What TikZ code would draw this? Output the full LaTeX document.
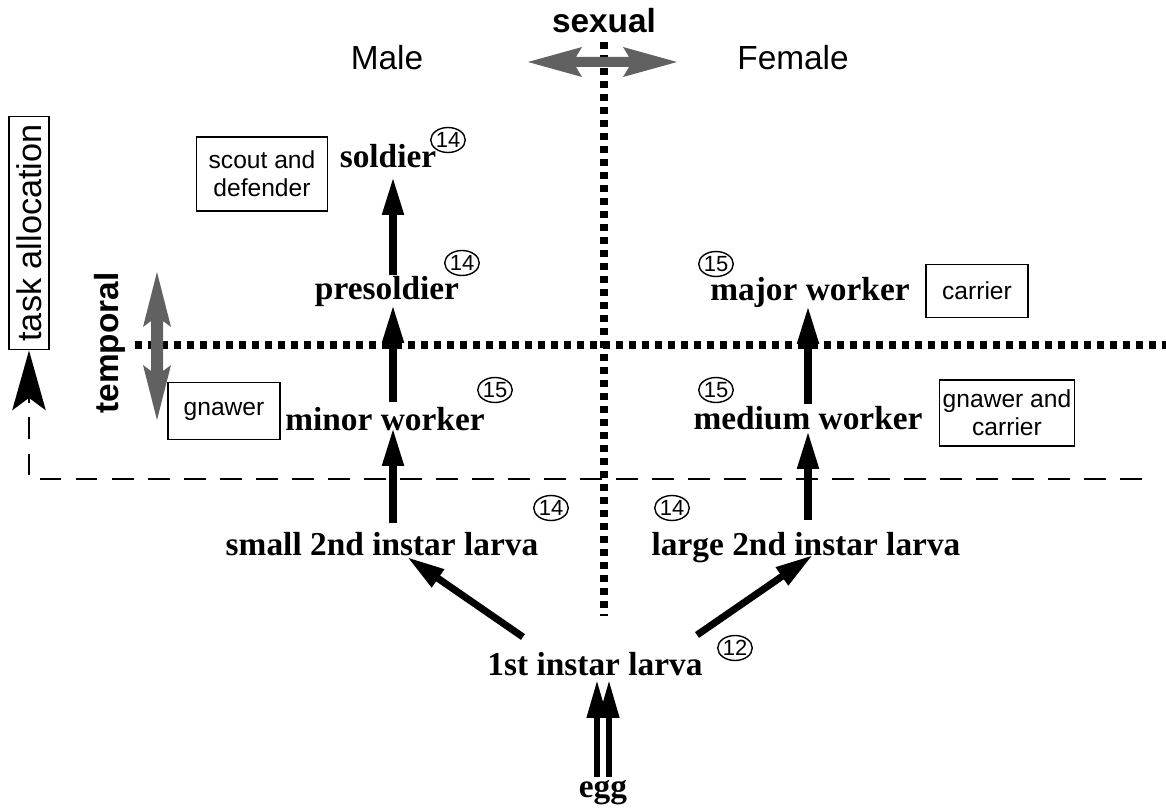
\documentclass[tikz,border=0pt]{standalone}
\usepackage{fontspec}
\setmainfont{Liberation Serif}
\newfontfamily\sansf{Liberation Sans}
\usetikzlibrary{arrows.meta,shapes.geometric,calc}
\begin{document}
\begin{tikzpicture}[x=0.02cm,y=-0.02cm,
  stage/.style={inner sep=0pt, anchor=base, font=\fontsize{19}{22}\selectfont\bfseries},
  head/.style={inner sep=0pt, anchor=base, font=\sansf\fontsize{19}{22}\selectfont},
  headb/.style={inner sep=0pt, anchor=base, font=\sansf\bfseries\fontsize{19}{22}\selectfont},
  role/.style={draw, line width=1.1pt, inner sep=0pt, align=center, font=\sansf\fontsize{14}{16}\selectfont},
  num/.style={ellipse, draw, line width=0.8pt, minimum width=0.64cm, minimum height=0.5cm, inner sep=0pt, font=\sansf\fontsize{12.5}{13}\selectfont},
  devarrow/.style={line width=4pt, -{Triangle[length=21.5pt,width=11.5pt]}},
  eggarrow/.style={line width=3.4pt, -{Triangle[length=21.5pt,width=11pt]}},
  dotline/.style={line width=4pt, dash pattern=on 4pt off 3.4pt},
  dashline/.style={line width=1.7pt, dash pattern=on 12.5pt off 8pt},
  shade/.style={fill=black!62, draw=none}]
\useasboundingbox (0,0) rectangle (1166,811);

% dotted axes
\coordinate (vtop) at (604,42);
\coordinate (vbot) at (604,616);
\coordinate (hleft) at (135,345);
\coordinate (hright) at (1166,345);
\draw[dotline] (vtop) -- (vbot);
\draw[dotline] (hleft) -- (hright);

% headings
\node[headb] (sexual) at (604,33) {sexual};
\node[head] (male) at (387,70) {Male};
\node[head] (female) at (793,70) {Female};
\node[headb, anchor=center, rotate=90] (temporal) at (110,343) {temporal};

% grey double arrows
\fill[shade] (528,62) -- (582,47) -- (576,57) -- (629,57) -- (623,47) -- (677,62)
  -- (623,77) -- (629,67) -- (576,67) -- (582,77) -- cycle;
\fill[shade] (157,272) -- (171,327) -- (163,321) -- (163,371) -- (171,365) -- (157,420)
  -- (143,365) -- (151,371) -- (151,321) -- (143,327) -- cycle;

% stages
\node[stage] (soldier) at (388,167) {soldier};
\node[stage] (presoldier) at (387,299) {presoldier};
\node[stage] (minor) at (385,430) {minor worker};
\node[stage] (small) at (382,555) {small 2nd instar larva};
\node[stage] (major) at (810,300) {major worker};
\node[stage] (medium) at (808,429) {medium worker};
\node[stage] (large) at (806,555) {large 2nd instar larva};
\node[stage] (first) at (595,675) {1st instar larva};
\node[stage] (egg) at (603,797) {egg};

% reference numbers
\node[num] (n1) at (448,140) {14};
\node[num] (n2) at (462,263) {14};
\node[num] (n3) at (495,390) {15};
\node[num] (n4) at (716,264) {15};
\node[num] (n5) at (716,390) {15};
\node[num] (n6) at (551,508) {14};
\node[num] (n7) at (672,508) {14};
\node[num] (n8) at (735,648) {12};

% task boxes
\node[role, minimum width=2.62cm, minimum height=1.48cm] (scout) at (262,174) {scout and\\defender};
\node[role, minimum width=2.24cm, minimum height=1.14cm] (gnawer) at (224,411) {gnawer};
\node[role, minimum width=2.04cm, minimum height=1.06cm] (carrier) at (977,291) {carrier};
\node[role, minimum width=2.7cm, minimum height=1.32cm] (gnawcar) at (1007,413) {gnawer and\\carrier};
\node[draw, line width=1.1pt, rotate=90, minimum width=4.66cm, minimum height=0.8cm, inner sep=0pt,
  font=\sansf\fontsize{19.5}{22}\selectfont] (task) at (29,233) {task allocation};

% task allocation dashed connector
\coordinate (dr) at (1142,479);
\coordinate (dl) at (29,479);
\draw[dashline, -{Stealth[length=34pt,width=19pt,inset=7pt]}] (dr) -- (dl) -- (task.west);

% developmental arrows
\coordinate (colM) at (393,0);
\coordinate (colF) at (808,0);
\draw[devarrow] ($(small.base -| colM)+(0,-32)$) -- ($(minor.base -| colM)+(0,-2)$);
\draw[devarrow] ($(minor.base -| colM)+(0,-28)$) -- ($(presoldier.base -| colM)+(0,6)$);
\draw[devarrow] ($(presoldier.base -| colM)+(0,-24)$) -- ($(soldier.base -| colM)+(0,10)$);
\draw[devarrow] ($(large.base -| colF)+(0,-35)$) -- ($(medium.base -| colF)+(0,2)$);
\draw[devarrow] ($(medium.base -| colF)+(0,-25)$) -- ($(major.base -| colF)+(0,6)$);
\draw[devarrow] ($(first.base)+(-72,-38)$) -- ($(small.base)+(25,2)$);
\draw[devarrow] ($(first.base)+(102,-40)$) -- ($(large.base)+(7,0)$);
\draw[eggarrow] ($(egg.base)+(-6,-20)$) -- ($(first.base)+(2,5)$);
\draw[eggarrow] ($(egg.base)+(6,-20)$) -- ($(first.base)+(14,5)$);
\end{tikzpicture}
\end{document}
